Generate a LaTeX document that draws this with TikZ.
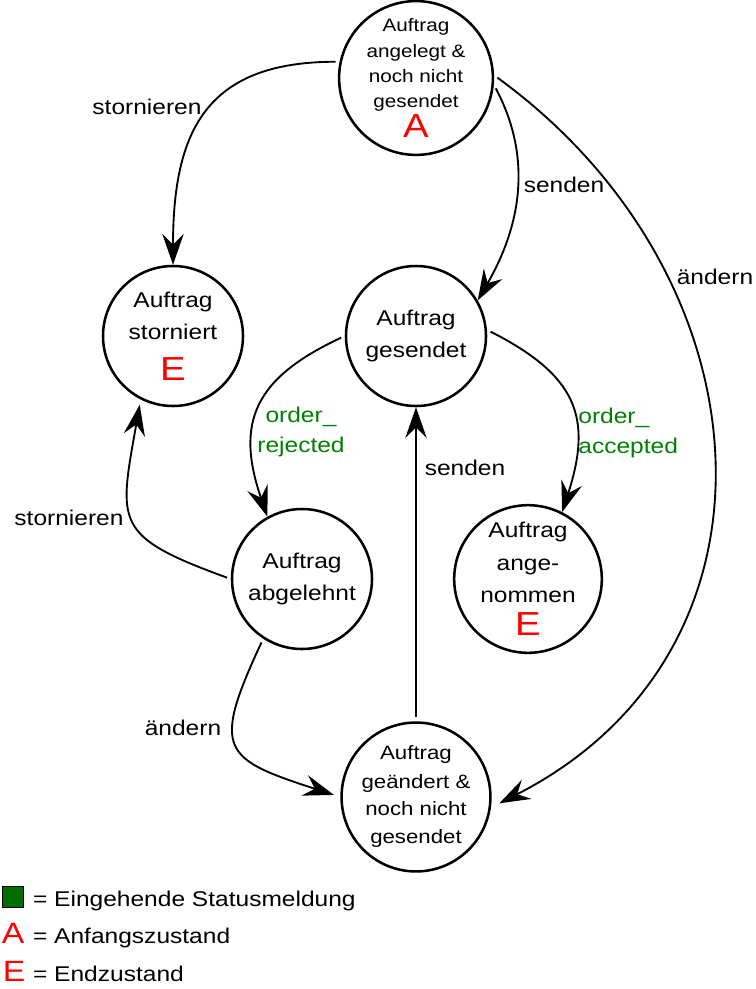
\documentclass[tikz,border=0pt]{standalone}
\usepackage{fontspec}
\setmainfont{Liberation Sans}[FakeStretch=1.15]
\usepackage{tikz}
\usetikzlibrary{arrows.meta,positioning}
\definecolor{msggreen}{RGB}{0,128,0}
\definecolor{boxgreen}{RGB}{0,110,0}
\newcommand{\markA}{{\fontsize{25}{25}\selectfont\color{red}A}}
\newcommand{\markE}{{\fontsize{25}{25}\selectfont\color{red}E}}
\tikzset{
	every node/.style={font=\fontsize{16}{24.4}\selectfont},
	msg label/.style={text=msggreen,align=center,font=\fontsize{16}{22}\selectfont},
	letter/.style={text=red,inner sep=0pt,font=\fontsize{22}{22}\selectfont}
}

\begin{document}
\begin{tikzpicture}[->, >={Stealth[length=23pt,width=16pt,inset=8pt]}, x=0.75pt, y=0.75pt,
	line width=1.4pt, shorten <=3pt,
	statenode/.style={circle, draw=black, line width=1.9pt, minimum size=105pt, inner sep=0pt, align=center},
	smalltext/.style={font=\fontsize{13.5}{19}\selectfont},
	midtext/.style={font=\fontsize{14.5}{21}\selectfont}]
	\useasboundingbox (0,0) rectangle (756,-989);

	\node[statenode, smalltext] (1) at (416,-78) {Auftrag\\angelegt \&\\noch nicht\\gesendet\\[1pt]\markA};
	\node[statenode] (2) at (173,-336) {Auftrag\\storniert\\[6pt]\markE};
	\node[statenode] (3) at (416,-336) {Auftrag\\gesendet};
	\node[statenode] (4) at (302,-579) {Auftrag\\abgelehnt};
	\node[statenode] (5) at (528,-579) {Auftrag\\ange-\\nommen\\\markE};
	\node[statenode, midtext] (6) at (416,-797) {Auftrag\\geändert \&\\noch nicht\\gesendet};

	% Edge Labels
	\node (7) at (147,-107) {stornieren};
	\node (8) at (564,-185) {senden};
	\node (9) at (715,-277) {ändern};
	\node[msg label] (10) at (301,-432) {order\_\\rejected};
	\node[msg label, align=left, anchor=west] (11) at (573,-433) {order\_\\accepted};
	\node (12) at (465,-468) {senden};
	\node (13) at (69,-518) {stornieren};
	\node (14) at (183,-728) {ändern};

	% Arrows from the start state
	\draw (1.168) to[out=180, in=90, looseness=1.3] (2.north);
	\draw (1.-5) to[out=-62, in=60] (3.30);
	\draw[shorten >=7pt] (1.2) to[out=-36, in=27, looseness=1.2] (6.-8);

	% Arrows from gesendet
	\draw (3.180) to[out=205, in=109, looseness=1.3] (4.119);
	\draw (3.5) to[out=-27, in=72, looseness=1.3] (5.63);

	% Arrows from abgelehnt and geaendert
	\draw[shorten >=4pt] (4.180) to[out=160, in=260, looseness=1.6] (2.243);
	\draw[shorten >=5pt] (4.237) to[out=245, in=162, looseness=1.8] (6.180);
	\draw (6.north) -- (3.south);

	% Legend
	\node[draw=black, fill=boxgreen, line width=1.1pt, minimum size=16pt, inner sep=0pt] (15) at (13,-897) {};
	\node[right=2.5pt of 15, yshift=-3pt] (16) {= Eingehende Statusmeldung};
	\node[letter] (17) at (13,-933) {A};
	\node[anchor=base west] (18) at (16.west |- 17.base) {= Anfangszustand};
	\node[letter] (19) at (14,-971) {E};
	\node[anchor=base west] (20) at (16.west |- 19.base) {= Endzustand};
\end{tikzpicture}
\end{document}
